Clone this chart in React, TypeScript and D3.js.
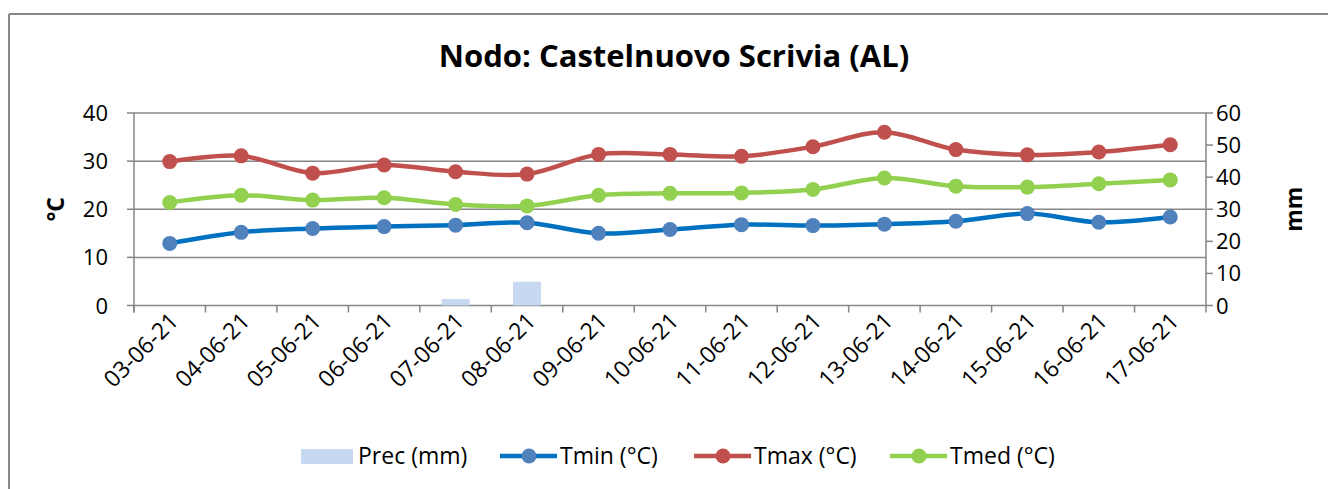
import React from "react";
import * as d3 from "d3";

const dates = ["03-06-21","04-06-21","05-06-21","06-06-21","07-06-21","08-06-21","09-06-21","10-06-21","11-06-21","12-06-21","13-06-21","14-06-21","15-06-21","16-06-21","17-06-21"];
const prec = [0,0,0,0,2.0,7.4,0,0,0,0,0,0,0,0,0];
const tmin = [12.9,15.2,16.0,16.4,16.7,17.2,15.0,15.8,16.8,16.6,16.9,17.5,19.1,17.3,18.4];
const tmax = [29.9,31.1,27.5,29.2,27.8,27.3,31.4,31.4,31.0,33.0,36.0,32.4,31.3,31.9,33.4];
const tmed = [21.4,22.9,21.9,22.4,21.0,20.7,22.9,23.3,23.4,24.1,26.5,24.8,24.6,25.3,26.1];
const leftTicks = [0,10,20,30,40];
const rightTicks = [0,10,20,30,40,50,60];

const FONT = "'Open Sans', sans-serif";
const W = 1328, H = 489;
const L = 134, R = 1206, T = 113, B = 305.5;

export default function App() {
  const x = d3.scaleBand<string>().domain(dates).range([L, R]);
  const yL = d3.scaleLinear().domain([0, 40]).range([B, T]);
  const yR = d3.scaleLinear().domain([0, 60]).range([B, T]);
  const cx = (d: string) => (x(d) as number) + x.bandwidth() / 2;
  const line = (vals: number[]) =>
    d3.line<number>().x((_, i) => cx(dates[i])).y((v) => yL(v)).curve(d3.curveCatmullRom.alpha(0.5))(vals) as string;

  const series = [
    { name: "Tmin (°C)", vals: tmin, stroke: "#0070C0", fill: "#4F81BD" },
    { name: "Tmax (°C)", vals: tmax, stroke: "#C0504D", fill: "#C0504D" },
    { name: "Tmed (°C)", vals: tmed, stroke: "#92D050", fill: "#92D050" },
  ];
  const barW = 28;
  const grid = "#868686";

  return (
    <svg width={W} height={H} style={{ position: "absolute", left: 0, top: 0, background: "#fff" }} fontFamily={FONT}>
      <line x1={9} y1={14} x2={W} y2={14} stroke={grid} strokeWidth={2} />
      <line x1={9} y1={14} x2={9} y2={H} stroke={grid} strokeWidth={2} />
      <text x={674} y={67} textAnchor="middle" fontSize={31} fontWeight="bold" fill="#000">Nodo: Castelnuovo Scrivia (AL)</text>

      {leftTicks.map((t) => (
        <g key={"gl" + t}>
          <line x1={L} x2={R} y1={yL(t)} y2={yL(t)} stroke={grid} strokeWidth={1.5} />
          <line x1={L - 7} x2={L} y1={yL(t)} y2={yL(t)} stroke={grid} strokeWidth={1.5} />
          <text x={108} y={yL(t) + 8} textAnchor="end" fontSize={22} fill="#000">{t}</text>
        </g>
      ))}
      {rightTicks.map((t) => (
        <g key={"gr" + t}>
          <line x1={R} x2={R + 7} y1={yR(t)} y2={yR(t)} stroke={grid} strokeWidth={1.5} />
          <text x={1216} y={yR(t) + 8} textAnchor="start" fontSize={22} fill="#000">{t}</text>
        </g>
      ))}
      <line x1={L} x2={L} y1={T} y2={B + 7} stroke={grid} strokeWidth={1.5} />
      <line x1={R} x2={R} y1={T} y2={B + 7} stroke={grid} strokeWidth={1.5} />
      {dates.map((d, i) => (
        <line key={"xt" + i} x1={x(d) as number} x2={x(d) as number} y1={B} y2={B + 7} stroke={grid} strokeWidth={1.5} />
      ))}

      {dates.map((d, i) => (
        <text key={"xl" + i} transform={`translate(${cx(d) + 10},${B + 17}) rotate(-45)`} textAnchor="end" fontSize={23} fill="#000">{d}</text>
      ))}

      <text transform={`translate(64,${(T + B) / 2}) rotate(-90)`} textAnchor="middle" fontSize={23} fontWeight="bold" fill="#000">°C</text>
      <text transform={`translate(1302,${(T + B) / 2}) rotate(-90)`} textAnchor="middle" fontSize={23} fontWeight="bold" fill="#000">mm</text>

      {dates.map((d, i) =>
        prec[i] > 0 ? (
          <rect key={"b" + i} x={cx(d) - barW / 2} y={yR(prec[i])} width={barW} height={B - yR(prec[i])} fill="#C6D9F1" />
        ) : null
      )}

      {series.map((s) => (
        <g key={s.name}>
          <path d={line(s.vals)} fill="none" stroke={s.stroke} strokeWidth={4.5} />
          {s.vals.map((v, i) => (
            <circle key={i} cx={cx(dates[i])} cy={yL(v)} r={7.5} fill={s.fill} />
          ))}
        </g>
      ))}

      <g fontSize={23} fill="#000">
        <rect x={301} y={449} width={52} height={15} fill="#C6D9F1" />
        <text x={358} y={464}>Prec (mm)</text>
        {series.map((s, i) => {
          const lx = [500, 694, 890][i];
          return (
            <g key={"lg" + i}>
              <line x1={lx} x2={lx + 57} y1={456} y2={456} stroke={s.stroke} strokeWidth={4.5} />
              <circle cx={lx + 29} cy={456} r={7.5} fill={s.fill} />
              <text x={lx + 60} y={464}>{s.name}</text>
            </g>
          );
        })}
      </g>
    </svg>
  );
}
